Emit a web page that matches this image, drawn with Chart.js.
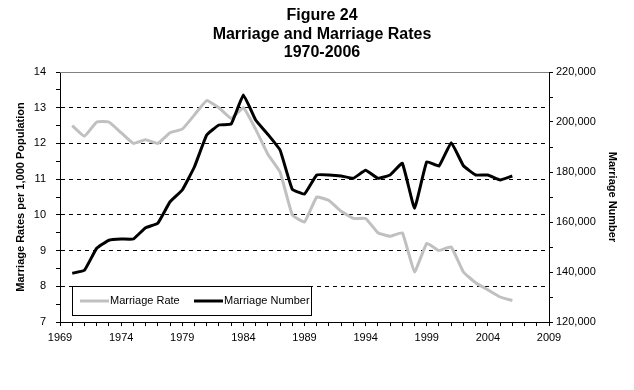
<!DOCTYPE html>
<html>
<head>
<meta charset="utf-8">
<title>Figure 24 - Marriage and Marriage Rates</title>
<script src="https://cdn.jsdelivr.net/npm/chart.js@4.4.0/dist/chart.umd.min.js"></script>
<style>
  html, body { margin: 0; padding: 0; background: #fff; }
  #MarriageChart { display: block; }
</style>
</head>
<body>
<canvas id="MarriageChart" width="634" height="390"></canvas>
<script>
// data
var years = [1970, 1971, 1972, 1973, 1974, 1975, 1976, 1977, 1978, 1979,
             1980, 1981, 1982, 1983, 1984, 1985, 1986, 1987, 1988, 1989,
             1990, 1991, 1992, 1993, 1994, 1995, 1996, 1997, 1998, 1999,
             2000, 2001, 2002, 2003, 2004, 2005, 2006];
var marriageRate = [12.5, 12.2, 12.6, 12.6, 12.3, 12.0, 12.1, 12.0, 12.3, 12.4,
                    12.8, 13.2, 13.0, 12.7, 13.0, 12.4, 11.7, 11.2, 10.0, 9.8,
                    10.5, 10.4, 10.1, 9.9, 9.9, 9.5, 9.4, 9.5, 8.4, 9.2,
                    9.0, 9.1, 8.4, 8.1, 7.9, 7.7, 7.6];
var marriageNumber = [139500, 140700, 149500, 152700, 153200, 153200, 157700, 159500, 168100, 172800,
                      182100, 194800, 198800, 199200, 210800, 200800, 195100, 188800, 173100, 171200,
                      178800, 178800, 178400, 177500, 180700, 177500, 178800, 183500, 165500, 184100,
                      182400, 191700, 182500, 178800, 178800, 176800, 178400];
var titleLines = ['Figure 24', 'Marriage and Marriage Rates', '1970-2006'];
var seriesNames = ['Marriage Rate', 'Marriage Number'];
var seriesColors = ['#c0c0c0', '#000000'];

function points(values) {
  return years.map(function(y, i) { return {x: y, y: values[i]}; });
}

// title, plot frame and the boxed legend inside the plot
var decorations = {
  id: 'decorations',
  beforeDraw: function(chart) {
    var ctx = chart.ctx;
    ctx.save();
    ctx.fillStyle = '#fff';
    ctx.fillRect(0, 0, chart.width, chart.height);
    ctx.restore();
  },
  afterDraw: function(chart) {
    var ctx = chart.ctx;
    var area = chart.chartArea;
    ctx.save();

    // gray top edge of the plot area
    ctx.strokeStyle = '#808080';
    ctx.lineWidth = 1;
    ctx.beginPath();
    ctx.moveTo(area.left, area.top + 0.5);
    ctx.lineTo(area.right, area.top + 0.5);
    ctx.stroke();

    // title
    ctx.fillStyle = '#000';
    ctx.font = 'bold 16px "Liberation Sans", Arial, sans-serif';
    ctx.textAlign = 'center';
    ctx.textBaseline = 'alphabetic';
    var baselines = [20, 38.5, 57];
    titleLines.forEach(function(t, i) { ctx.fillText(t, 322, baselines[i]); });

    // legend
    ctx.fillStyle = '#fff';
    ctx.fillRect(72, 286, 239, 29);
    ctx.strokeStyle = '#000';
    ctx.strokeRect(72.5, 286.5, 239, 29);
    ctx.font = '11px "Liberation Sans", Arial, sans-serif';
    ctx.textAlign = 'left';
    ctx.textBaseline = 'middle';
    var sampleX = [80, 194];
    seriesNames.forEach(function(name, i) {
      ctx.strokeStyle = seriesColors[i];
      ctx.lineWidth = 3;
      ctx.beginPath();
      ctx.moveTo(sampleX[i], 301);
      ctx.lineTo(sampleX[i] + 29, 301);
      ctx.stroke();
      ctx.fillStyle = '#000';
      ctx.fillText(name, sampleX[i] + 30, 301);
    });
    ctx.restore();
  }
};

var tickFont = {family: '"Liberation Sans", Arial, sans-serif', size: 11};
var titleFont = {family: '"Liberation Sans", Arial, sans-serif', size: 11, weight: 'bold'};

var ctx = document.getElementById('MarriageChart').getContext('2d');
var chart = new Chart(ctx, {
  type: 'line',
  data: {
    datasets: [{
        label: seriesNames[1],
        data: points(marriageNumber),
        yAxisID: 'y1',
        borderColor: seriesColors[1],
        borderWidth: 3,
        pointRadius: 0,
        tension: 0.1,
        fill: false,
        order: 0
      },
      {
        label: seriesNames[0],
        data: points(marriageRate),
        yAxisID: 'y',
        borderColor: seriesColors[0],
        borderWidth: 3,
        pointRadius: 0,
        tension: 0.1,
        fill: false,
        order: 1
      }
    ]
  },
  options: {
    responsive: false,
    animation: false,
    events: [],
    layout: {padding: {top: 72, left: 0, right: 0, bottom: 0}},
    plugins: {
      legend: {display: false},
      title: {display: false},
      tooltip: {enabled: false}
    },
    scales: {
      x: {
        type: 'linear',
        position: 'bottom',
        min: 1969,
        max: 2009,
        ticks: {
          stepSize: 1,
          autoSkip: false,
          maxRotation: 0,
          padding: 5,
          color: '#000',
          font: tickFont,
          callback: function(v) { return (v - 1969) % 5 === 0 ? String(v) : ''; }
        },
        grid: {drawOnChartArea: false, tickLength: 4, tickColor: '#000'},
        border: {color: '#000', width: 1},
        afterFit: function(s) { s.height = 68; }
      },
      y: {
        position: 'left',
        min: 7,
        max: 14,
        ticks: {
          stepSize: 0.5,
          padding: 10,
          color: '#000',
          font: tickFont,
          callback: function(v) { return Number.isInteger(v) ? String(v) : ''; }
        },
        grid: {
          color: function(c) {
            var v = c.tick ? c.tick.value : 0;
            return (Number.isInteger(v) && v > 7 && v < 14) ? '#000' : 'rgba(0,0,0,0)';
          },
          tickColor: '#000',
          tickLength: 4
        },
        border: {color: '#000', width: 1, dash: [4, 4]},
        title: {
          display: true,
          text: 'Marriage Rates per 1,000 Population',
          color: '#000',
          font: titleFont,
          padding: {top: 14, bottom: 0}
        },
        afterFit: function(s) { s.width = 60; }
      },
      y1: {
        position: 'right',
        min: 120000,
        max: 220000,
        ticks: {
          stepSize: 10000,
          padding: 3,
          color: '#000',
          font: tickFont,
          callback: function(v) { return v % 20000 === 0 ? v.toLocaleString('en-US') : ''; }
        },
        grid: {drawOnChartArea: false, tickLength: 4, tickColor: '#000'},
        border: {color: '#000', width: 1},
        title: {
          display: true,
          text: 'Marriage Number',
          color: '#000',
          font: titleFont,
          padding: {top: 15, bottom: 0}
        },
        afterFit: function(s) { s.width = 85; }
      }
    }
  },
  plugins: [decorations]
});
</script>
</body>
</html>
